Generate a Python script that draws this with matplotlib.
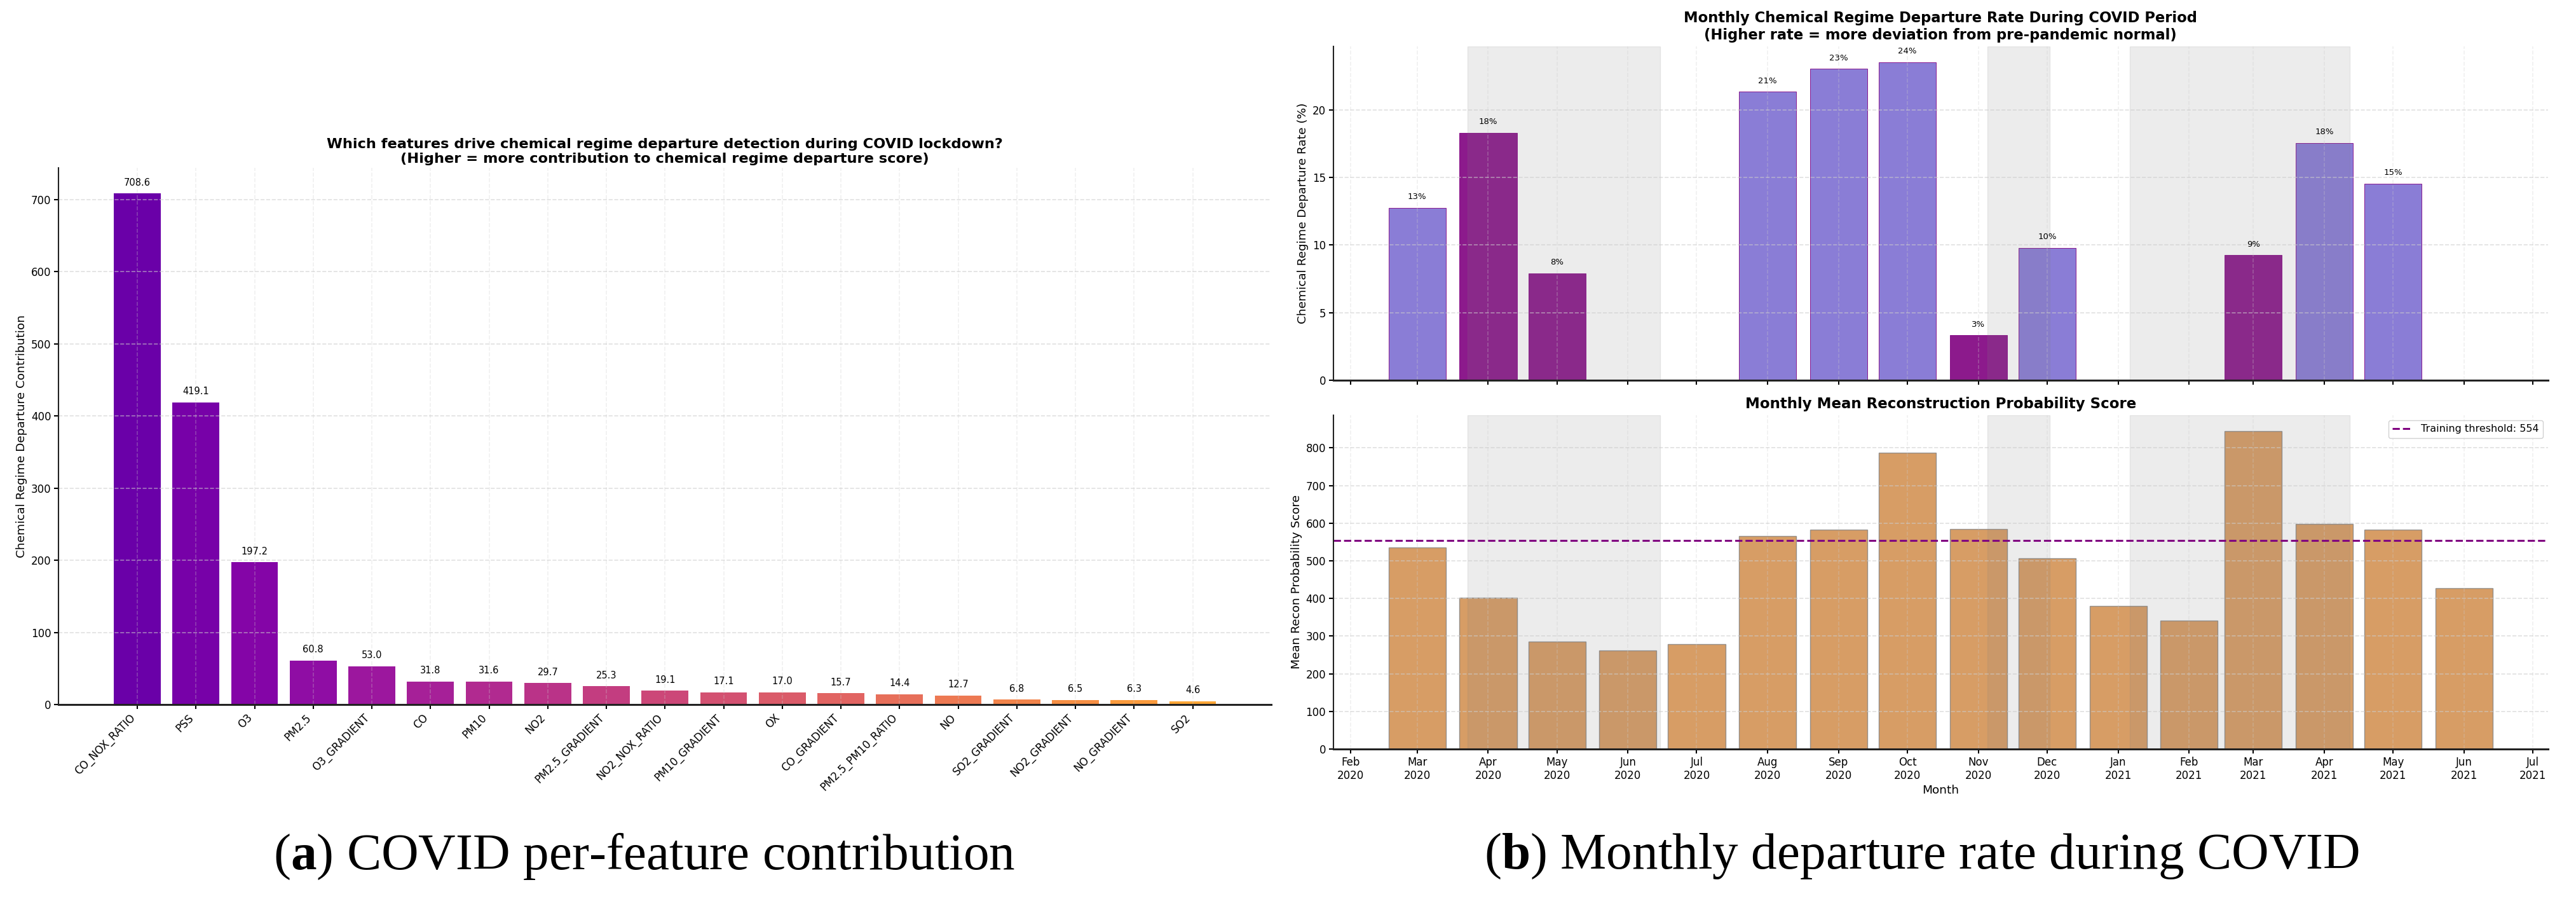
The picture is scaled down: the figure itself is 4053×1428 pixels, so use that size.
import matplotlib
matplotlib.use("Agg")
import matplotlib.pyplot as plt
import matplotlib.dates as mdates
import numpy as np
import pandas as pd

# (a) per-feature contribution during COVID lockdown
features = ["CO_NOX_RATIO", "PSS", "O3", "PM2.5", "O3_GRADIENT", "CO", "PM10", "NO2",
            "PM2.5_GRADIENT", "NO2_NOX_RATIO", "PM10_GRADIENT", "OX", "CO_GRADIENT",
            "PM2.5_PM10_RATIO", "NO", "SO2_GRADIENT", "NO2_GRADIENT", "NO_GRADIENT", "SO2"]
contribution = [708.6, 419.1, 197.2, 60.8, 53.0, 31.8, 31.6, 29.7, 25.3, 19.1,
                17.1, 17.0, 15.7, 14.4, 12.7, 6.8, 6.5, 6.3, 4.6]

# (b) monthly departure rate and reconstruction score
months = ["2020-03", "2020-04", "2020-05", "2020-06", "2020-07", "2020-08", "2020-09", "2020-10",
          "2020-11", "2020-12", "2021-01", "2021-02", "2021-03", "2021-04", "2021-05", "2021-06"]
departure_rate = [12.76, 18.3, 7.9, None, None, 21.34, 23.04, 23.52,
                  3.33, 9.8, None, None, 9.25, 17.55, 14.55, None]
mostly_lockdown = [False, True, True, True, False, False, False, False,
                   True, False, True, True, True, False, False, False]
recon_score = [535.6, 401.9, 285.6, 261.4, 278.8, 565.8, 583.2, 787.9,
               584.7, 506.9, 380.0, 341.5, 844.6, 598.3, 582.4, 427.6]
threshold = 554
lockdowns = [("2020-03-23", "2020-06-15"), ("2020-11-05", "2020-12-02"), ("2021-01-06", "2021-04-12")]

plt.rcParams["font.family"] = "DejaVu Sans"
plt.rcParams["axes.linewidth"] = 1.5
plt.rcParams["xtick.major.width"] = 1.5
plt.rcParams["ytick.major.width"] = 1.5
plt.rcParams["xtick.major.size"] = 5
plt.rcParams["ytick.major.size"] = 5

fig = plt.figure(figsize=(40.53, 14.28), dpi=100)


def style_axes(ax):
    ax.spines["top"].set_visible(False)
    ax.spines["right"].set_visible(False)
    ax.spines["left"].set_color("#222222")
    ax.spines["bottom"].set_color("#222222")
    ax.spines["bottom"].set_linewidth(2.2)
    ax.grid(axis="y", linestyle="--", color="#cccccc", alpha=0.6, linewidth=1.2)
    ax.grid(axis="x", linestyle="--", color="#cccccc", alpha=0.3, linewidth=1.2)
    ax.tick_params(labelsize=12)


# ---- left panel ----
ax1 = fig.add_axes([0.0228, 0.2241, 0.4707, 0.5910])
x = np.arange(len(features))
colors = plt.cm.plasma(np.linspace(0.2, 0.8, len(features)))
ax1.bar(x, contribution, width=0.8, color=colors)
for xi, v in zip(x, contribution):
    ax1.text(xi, v + max(contribution) * 0.012, f"{v:.1f}", ha="center", va="bottom", fontsize=10.5)
ax1.set_xticks(x)
ax1.set_xticklabels(features, rotation=45, ha="right")
ax1.set_ylabel("Chemical Regime Departure Contribution", fontsize=13.3)
ax1.set_title("Which features drive chemical regime departure detection during COVID lockdown?\n"
              "(Higher = more contribution to chemical regime departure score)",
              fontsize=16.2, fontweight="bold", pad=6)
style_axes(ax1)

# ---- right panels ----
dates = pd.to_datetime(months).to_pydatetime()
ax2 = fig.add_axes([0.5176, 0.5812, 0.4715, 0.3677])
ax3 = fig.add_axes([0.5176, 0.1751, 0.4715, 0.3676], sharex=ax2)

rate_dates = [d for d, r in zip(dates, departure_rate) if r is not None]
rate_vals = [r for r in departure_rate if r is not None]
rate_cols = ["#8c1a8c" if lk else "#8a7dd6" for r, lk in zip(departure_rate, mostly_lockdown) if r is not None]
ax2.bar(rate_dates, rate_vals, width=25, color=rate_cols, edgecolor="purple", linewidth=0.6)
for d, v in zip(rate_dates, rate_vals):
    ax2.text(d, v + 0.5, f"{v:.0f}%", ha="center", va="bottom", fontsize=9.5)
ax2.set_ylabel("Chemical Regime Departure Rate (%)", fontsize=13.3)
ax2.set_title("Monthly Chemical Regime Departure Rate During COVID Period\n"
              "(Higher rate = more deviation from pre-pandemic normal)",
              fontsize=16.3, fontweight="bold", pad=8)

ax3.bar(dates, recon_score, width=25, color="peru", alpha=0.8, edgecolor="gray", linewidth=1)
ax3.axhline(threshold, color="purple", linestyle="--", linewidth=2.2,
            label=f"Training threshold: {threshold}")
ax3.set_ylabel("Mean Recon Probability Score", fontsize=13.3)
ax3.set_xlabel("Month", fontsize=13.3)
ax3.set_title("Monthly Mean Reconstruction Probability Score", fontsize=16.5, fontweight="bold", pad=8)
ax3.legend(loc="upper right", fontsize=11.5, framealpha=0.9, edgecolor="#cccccc")

for ax in (ax2, ax3):
    for start, end in lockdowns:
        ax.axvspan(pd.Timestamp(start), pd.Timestamp(end), color="gray", alpha=0.15)
    style_axes(ax)
    ax.xaxis.set_major_locator(mdates.MonthLocator())
    ax.xaxis.set_major_formatter(mdates.DateFormatter("%b\n%Y"))
plt.setp(ax2.get_xticklabels(), visible=False)

# ---- sub-captions ----
plt.rcParams["mathtext.fontset"] = "custom"
plt.rcParams["mathtext.bf"] = "Liberation Serif:bold"
plt.rcParams["mathtext.rm"] = "Liberation Serif"
fig.text(0.25, 0.057, r"($\mathbf{a}$) COVID per-feature contribution",
         ha="center", va="center", fontsize=58.5, family="Liberation Serif")
fig.text(0.746, 0.057, r"($\mathbf{b}$) Monthly departure rate during COVID",
         ha="center", va="center", fontsize=58.5, family="Liberation Serif")

fig.savefig("out.png", dpi=100)
